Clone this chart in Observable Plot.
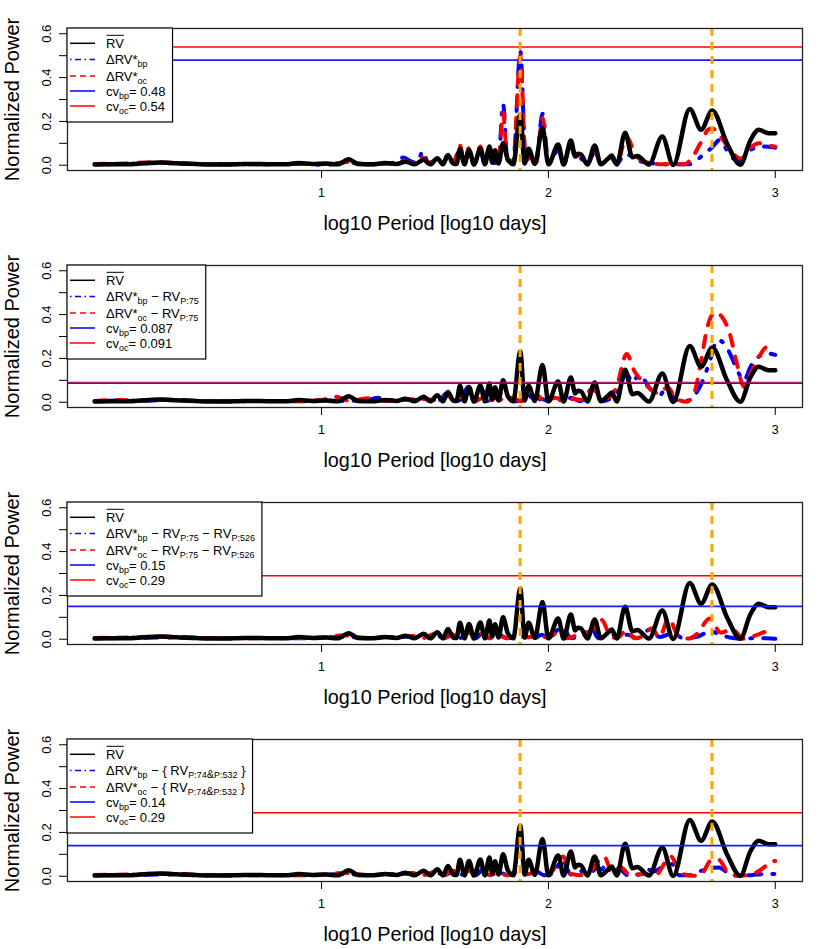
<!DOCTYPE html>
<html><head><meta charset="utf-8">
<script src="https://cdn.jsdelivr.net/npm/d3@7"></script>
<script src="https://cdn.jsdelivr.net/npm/@observablehq/plot@0.6"></script>
<style>body{margin:0;background:#fff} #chart svg{display:block}</style>
</head><body><div id="chart"></div><script>
// ---------- data (log10 period, normalized power) ----------
const rvCurve = [[0.00,0.003],[0.06,0.005],[0.14,0.004],[0.22,0.009],[0.28,0.012],[0.36,0.009],[0.46,0.005],[0.56,0.003],[0.66,0.006],[0.76,0.005],[0.84,0.004],[0.90,0.010],[0.96,0.006],[1.02,0.008],[1.07,0.004],[1.12,0.027],[1.16,0.006],[1.22,0.004],[1.28,0.010],[1.33,0.006],[1.37,0.016],[1.41,0.004],[1.45,0.025],[1.48,0.004],[1.51,0.032],[1.535,0.004],[1.557,0.047],[1.58,0.008],[1.595,0.006],[1.61,0.075],[1.63,0.004],[1.65,0.07],[1.672,0.003],[1.70,0.076],[1.72,0.004],[1.74,0.085],[1.752,0.012],[1.765,0.068],[1.78,0.008],[1.80,0.10],[1.82,0.03],[1.845,0.004],[1.876,0.231],[1.895,0.008],[1.913,0.075],[1.94,0.006],[1.974,0.17],[2.00,0.004],[2.043,0.095],[2.067,0.003],[2.099,0.113],[2.118,0.04],[2.13,0.053],[2.143,0.05],[2.172,0.003],[2.204,0.09],[2.231,0.004],[2.262,0.03],[2.279,0.044],[2.301,0.003],[2.338,0.148],[2.37,0.037],[2.392,0.042],[2.443,0.003],[2.502,0.131],[2.55,0.001],[2.623,0.257],[2.673,0.162],[2.722,0.25],[2.788,0.098],[2.846,0.002],[2.89,0.113],[2.927,0.162],[2.97,0.146],[3.00,0.146]];

const bp1 = [[0.00,0.004],[0.15,0.006],[0.28,0.010],[0.40,0.006],[0.60,0.004],[0.80,0.005],[0.92,0.007],[1.00,0.002],[1.06,0.006],[1.12,0.012],[1.20,0.004],[1.30,0.008],[1.36,0.035],[1.39,0.02],[1.42,0.01],[1.447,0.064],[1.47,0.01],[1.51,0.025],[1.535,0.01],[1.557,0.04],[1.58,0.01],[1.61,0.07],[1.63,0.01],[1.65,0.065],[1.672,0.008],[1.70,0.07],[1.72,0.008],[1.74,0.08],[1.76,0.01],[1.78,0.02],[1.80,0.28],[1.82,0.02],[1.845,0.02],[1.876,0.52],[1.90,0.02],[1.92,0.04],[1.945,0.01],[1.974,0.235],[2.00,0.01],[2.043,0.07],[2.067,0.005],[2.099,0.09],[2.12,0.03],[2.143,0.03],[2.172,0.005],[2.204,0.06],[2.231,0.005],[2.28,0.03],[2.30,0.005],[2.338,0.05],[2.37,0.04],[2.40,0.02],[2.45,0.01],[2.50,0.005],[2.55,0.005],[2.62,0.005],[2.685,0.05],[2.72,0.08],[2.755,0.115],[2.80,0.045],[2.84,0.02],[2.89,0.07],[2.95,0.085],[3.00,0.08]];
const oc1 = [[0.00,0.006],[0.13,0.008],[0.28,0.014],[0.40,0.008],[0.60,0.004],[0.80,0.006],[0.92,0.006],[1.00,0.005],[1.06,0.008],[1.12,0.015],[1.20,0.005],[1.30,0.008],[1.36,0.02],[1.40,0.01],[1.447,0.035],[1.47,0.01],[1.51,0.03],[1.535,0.01],[1.557,0.05],[1.58,0.01],[1.61,0.09],[1.63,0.01],[1.65,0.08],[1.672,0.008],[1.70,0.085],[1.72,0.008],[1.74,0.09],[1.76,0.01],[1.78,0.02],[1.80,0.24],[1.82,0.02],[1.845,0.02],[1.876,0.50],[1.90,0.02],[1.92,0.05],[1.945,0.01],[1.974,0.215],[2.00,0.01],[2.043,0.08],[2.067,0.005],[2.099,0.1],[2.12,0.04],[2.143,0.045],[2.172,0.005],[2.204,0.07],[2.231,0.005],[2.28,0.04],[2.30,0.005],[2.345,0.13],[2.375,0.07],[2.40,0.03],[2.45,0.01],[2.50,0.005],[2.55,0.005],[2.60,0.005],[2.64,0.045],[2.67,0.1],[2.71,0.165],[2.73,0.165],[2.76,0.13],[2.80,0.07],[2.85,0.03],[2.89,0.08],[2.93,0.10],[2.97,0.09],[3.00,0.085]];

const bp2 = [[0,0.004],[0.1,0.008],[0.2,0.006],[0.3,0.01],[0.45,0.006],[0.6,0.004],[0.75,0.006],[0.9,0.004],[1.0,0.008],[1.1,0.006],[1.2,0.01],[1.25,0.02],[1.32,0.008],[1.38,0.012],[1.43,0.01],[1.48,0.012],[1.52,0.01],[1.55,0.04],[1.58,0.005],[1.615,0.01],[1.645,0.07],[1.67,0.005],[1.705,0.06],[1.73,0.005],[1.76,0.02],[1.79,0.01],[1.82,0.025],[1.85,0.004],[1.88,0.01],[1.91,0.035],[1.94,0.005],[1.97,0.015],[2.0,0.005],[2.025,0.035],[2.06,0.005],[2.1,0.02],[2.14,0.005],[2.2,0.055],[2.24,0.005],[2.305,0.05],[2.345,0.13],[2.37,0.09],[2.40,0.125],[2.45,0.06],[2.49,0.03],[2.52,0.07],[2.56,0.01],[2.6,0.004],[2.65,0.04],[2.685,0.11],[2.715,0.2],[2.745,0.285],[2.78,0.26],[2.81,0.2],[2.835,0.14],[2.862,0.1],[2.89,0.16],[2.93,0.21],[2.97,0.222],[3.0,0.216]];
const oc2 = [[0,0.006],[0.1,0.01],[0.2,0.008],[0.3,0.012],[0.45,0.006],[0.6,0.005],[0.75,0.006],[0.9,0.006],[1.0,0.01],[1.06,0.025],[1.12,0.008],[1.21,0.018],[1.28,0.006],[1.35,0.01],[1.45,0.015],[1.5,0.01],[1.56,0.03],[1.58,0.008],[1.607,0.05],[1.63,0.005],[1.655,0.03],[1.68,0.005],[1.71,0.02],[1.74,0.008],[1.77,0.02],[1.80,0.01],[1.84,0.02],[1.88,0.005],[1.92,0.015],[1.95,0.033],[1.98,0.005],[2.03,0.02],[2.07,0.005],[2.11,0.015],[2.15,0.01],[2.19,0.06],[2.22,0.04],[2.26,0.02],[2.3,0.07],[2.345,0.22],[2.38,0.14],[2.42,0.09],[2.455,0.055],[2.49,0.04],[2.525,0.07],[2.56,0.02],[2.61,0.002],[2.645,0.05],[2.675,0.2],[2.70,0.34],[2.735,0.41],[2.765,0.39],[2.80,0.31],[2.83,0.18],[2.862,0.07],[2.89,0.13],[2.93,0.21],[2.96,0.25],[3.0,0.24]];

const bp3 = [[0,0.004],[0.15,0.006],[0.3,0.008],[0.5,0.004],[0.7,0.006],[0.9,0.004],[1.0,0.006],[1.1,0.012],[1.2,0.005],[1.3,0.008],[1.4,0.012],[1.45,0.006],[1.5,0.02],[1.54,0.005],[1.58,0.025],[1.61,0.005],[1.65,0.035],[1.68,0.005],[1.71,0.03],[1.74,0.005],[1.78,0.02],[1.82,0.005],[1.86,0.015],[1.9,0.02],[1.94,0.005],[1.97,0.02],[2.0,0.005],[2.06,0.057],[2.1,0.005],[2.15,0.02],[2.19,0.05],[2.22,0.005],[2.28,0.02],[2.35,0.02],[2.39,0.005],[2.45,0.045],[2.49,0.01],[2.555,0.03],[2.59,0.005],[2.65,0.01],[2.715,0.035],[2.76,0.02],[2.8,0.008],[2.86,0.002],[2.92,0.006],[2.96,0.004],[3.0,0.002]];
const oc3 = [[0,0.006],[0.15,0.008],[0.3,0.012],[0.5,0.006],[0.7,0.005],[0.9,0.006],[1.0,0.008],[1.1,0.018],[1.2,0.006],[1.3,0.01],[1.4,0.015],[1.45,0.006],[1.5,0.025],[1.54,0.005],[1.58,0.02],[1.61,0.006],[1.65,0.03],[1.68,0.005],[1.71,0.025],[1.74,0.005],[1.78,0.015],[1.82,0.005],[1.86,0.02],[1.9,0.008],[1.95,0.015],[2.0,0.008],[2.04,0.03],[2.08,0.005],[2.13,0.02],[2.17,0.03],[2.21,0.06],[2.235,0.088],[2.27,0.02],[2.3,0.005],[2.345,0.04],[2.38,0.005],[2.42,0.015],[2.455,0.05],[2.49,0.01],[2.53,0.095],[2.57,0.02],[2.62,0.003],[2.66,0.03],[2.71,0.095],[2.76,0.03],[2.81,0.045],[2.86,0.002],[2.92,0.02],[2.965,0.035],[3.0,0.03]];

const bp4 = [[0,0.004],[0.15,0.006],[0.3,0.008],[0.5,0.004],[0.7,0.006],[0.9,0.004],[1.0,0.006],[1.1,0.01],[1.2,0.005],[1.3,0.008],[1.4,0.012],[1.45,0.005],[1.5,0.02],[1.54,0.005],[1.58,0.02],[1.61,0.005],[1.65,0.03],[1.68,0.005],[1.71,0.03],[1.74,0.005],[1.78,0.02],[1.82,0.005],[1.86,0.02],[1.9,0.01],[1.95,0.02],[1.98,0.005],[2.02,0.01],[2.06,0.075],[2.1,0.008],[2.17,0.03],[2.19,0.02],[2.215,0.04],[2.235,0.03],[2.255,0.06],[2.28,0.01],[2.31,0.035],[2.35,0.005],[2.4,0.008],[2.443,0.03],[2.46,0.02],[2.5,0.04],[2.545,0.055],[2.575,0.005],[2.62,0.005],[2.66,0.02],[2.69,0.03],[2.75,0.04],[2.8,0.01],[2.84,0.002],[2.9,0.006],[2.95,0.01],[3.0,0.01]];
const oc4 = [[0,0.006],[0.15,0.008],[0.3,0.012],[0.5,0.006],[0.7,0.005],[0.9,0.006],[1.0,0.008],[1.1,0.015],[1.2,0.006],[1.3,0.01],[1.4,0.015],[1.45,0.006],[1.5,0.02],[1.54,0.005],[1.58,0.025],[1.61,0.006],[1.65,0.025],[1.68,0.005],[1.71,0.02],[1.74,0.005],[1.78,0.015],[1.82,0.005],[1.86,0.015],[1.9,0.008],[1.95,0.02],[2.0,0.008],[2.065,0.09],[2.1,0.01],[2.14,0.005],[2.19,0.03],[2.245,0.09],[2.28,0.02],[2.32,0.04],[2.36,0.005],[2.42,0.01],[2.47,0.005],[2.54,0.09],[2.58,0.02],[2.63,0.002],[2.67,0.005],[2.72,0.075],[2.75,0.075],[2.79,0.02],[2.84,0.002],[2.9,0.01],[2.95,0.04],[2.985,0.07],[3.0,0.07]];

const bpSeries = [bp1, bp2, bp3, bp4];
const ocSeries = [oc1, oc2, oc3, oc4];
const cvBp = [0.48, 0.087, 0.15, 0.14];
const cvOc = [0.54, 0.091, 0.29, 0.29];
const cvBpText = ["0.48", "0.087", "0.15", "0.14"];
const cvOcText = ["0.54", "0.091", "0.29", "0.29"];
const markedPeriods = [75, 526];          // days
const xTicks = [1, 2, 3];
const yTicks = [0, 0.1, 0.2, 0.3, 0.4, 0.5, 0.6];
const yTickLabels = ["0.0", "", "0.2", "", "0.4", "", "0.6"];
const xTitle = "log10 Period [log10 days]";
const yTitle = "Normalized Power";

// residual terms per panel (legend)
const residTerms = [
  [],
  [{t:" − RV"},{t:"P:75",sub:1}],
  [{t:" − RV"},{t:"P:75",sub:1},{t:" − RV"},{t:"P:526",sub:1}],
  [{t:" − { RV"},{t:"P:74",sub:1},{t:"&",sub:1,size:11},{t:"P:532",sub:1},{t:" }"}]
];

// ---------- drawing ----------
const FONT = "'Liberation Sans', Arial, Helvetica, sans-serif";
const W = 830, H = 237, ML = 67, MR = 28, MT = 28, MB = 67;
const container = document.getElementById("chart");
const pts = a => a.map(([x, y]) => ({x, y}));

for (let i = 0; i < 4; i++) {
  const overlap = Math.abs(cvBp[i] - cvOc[i]) < 0.01;
  const svg = Plot.plot({
    width: W, height: H,
    marginLeft: ML, marginRight: MR, marginTop: MT, marginBottom: MB,
    style: {fontFamily: FONT, fontSize: "12.5px", background: "white", color: "black"},
    x: {domain: [-0.12, 3.12]},
    y: {domain: [-0.024, 0.624]},
    marks: [
      Plot.line(pts(bpSeries[i]), {x: "x", y: "y", curve: "monotone-x", stroke: "#0000ff", strokeWidth: 4, strokeDasharray: "2,11,13,11", strokeLinecap: "round", strokeLinejoin: "round"}),
      Plot.line(pts(ocSeries[i]), {x: "x", y: "y", curve: "monotone-x", stroke: "#ff0000", strokeWidth: 4, strokeDasharray: "11,11", strokeLinecap: "round", strokeLinejoin: "round"}),
      Plot.line(pts(rvCurve), {x: "x", y: "y", curve: "monotone-x", stroke: "black", strokeWidth: 4.5, strokeLinejoin: "round"}),
      Plot.ruleY([cvBp[i]], {stroke: "#1a1aff", strokeWidth: 1.7}),
      Plot.ruleY([cvOc[i]], {stroke: "#ff0000", strokeWidth: 1.5, strokeOpacity: overlap ? 0.55 : 1}),
      Plot.ruleX(markedPeriods.map(p => Math.log10(p)), {stroke: "orange", strokeWidth: 3, strokeDasharray: "8,6"}),
      Plot.frame({stroke: "#222", strokeWidth: 1.3}),
      Plot.axisX({ticks: xTicks, tickFormat: d => String(d), tickSize: 8, tickPadding: 10, fontSize: 12.5, label: null}),
      Plot.axisY({ticks: yTicks, tickFormat: d => yTickLabels[yTicks.indexOf(d)] ?? "", tickSize: 8, tickPadding: 9, tickRotate: -90, fontSize: 13, label: null}),
      Plot.text([yTitle], {text: d => d, frameAnchor: "left", rotate: -90, dx: -48.7, lineAnchor: "bottom", textAnchor: "middle", fontSize: 20}),
      Plot.text([xTitle], {text: d => d, frameAnchor: "bottom", dy: 59, lineAnchor: "bottom", textAnchor: "middle", fontSize: 19.8})
    ]
  });
  container.appendChild(svg);

  // legend (R-style box, top-left of plot region)
  const g = d3.select(svg).append("g").attr("font-family", FONT).attr("font-size", 13)
    .attr("fill", "black").attr("text-anchor", "start");
  const box = g.append("rect").attr("x", ML).attr("y", MT).attr("height", 94).attr("fill", "white").attr("stroke", "black").attr("stroke-width", 1.2);
  const rows = [43.3, 59.5, 76, 91, 106];
  const lineStyles = [
    {stroke: "black", w: 1.5, dash: null},
    {stroke: "#0000ff", w: 1.5, dash: "1.5,3.5,6,3.5"},
    {stroke: "#ff0000", w: 1.5, dash: "6,4"},
    {stroke: "#1a1aff", w: 1.7, dash: null},
    {stroke: "#ff0000", w: 1.5, dash: null}
  ];
  const labels = [
    [{t:"RV"}],
    [{t:"ΔRV*"},{t:"bp",sub:1}, ...residTerms[i]],
    [{t:"ΔRV*"},{t:"oc",sub:1}, ...residTerms[i]],
    [{t:"cv"},{t:"bp",sub:1},{t:"= " + cvBpText[i]}],
    [{t:"cv"},{t:"oc",sub:1},{t:"= " + cvOcText[i]}]
  ];
  let maxEnd = 0;
  rows.forEach((ry, k) => {
    const ls = lineStyles[k];
    const ln = g.append("line").attr("x1", 70).attr("x2", 95).attr("y1", ry).attr("y2", ry)
      .attr("stroke", ls.stroke).attr("stroke-width", ls.w);
    if (ls.dash) ln.attr("stroke-dasharray", ls.dash);
    const t = g.append("text").attr("x", 106).attr("y", ry + 4.5)
      .attr("text-anchor", "start").attr("style", "white-space:pre");
    let shift = 0;
    for (const p of labels[k]) {
      const target = p.sub ? 3 : 0;
      t.append("tspan").attr("dy", target - shift).attr("font-size", p.size || (p.sub ? 9 : 13)).text(p.t);
      shift = target;
    }
    const len = t.node().getComputedTextLength();
    maxEnd = Math.max(maxEnd, 106 + len);
    if (k === 0) {
      g.append("line").attr("x1", 106.5).attr("x2", 106 + len).attr("y1", ry - 8).attr("y2", ry - 8)
        .attr("stroke", "black").attr("stroke-width", 1);
    }
  });
  box.attr("width", maxEnd + 7 - ML);
}
</script></body></html>
